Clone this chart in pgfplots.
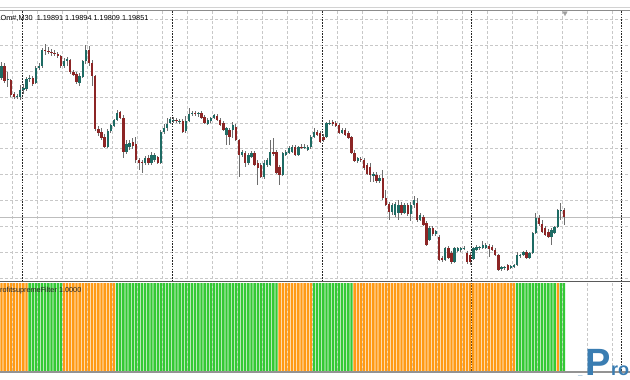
\documentclass[border=0pt]{standalone}
\usepackage{fontspec}
\setmainfont{Liberation Sans}
\usepackage{pgfplots}
\usepackage{pgfplotstable}
\pgfplotsset{compat=1.18}
\definecolor{gridc}{HTML}{C8C8C8}
\definecolor{pricec}{HTML}{BDBDBD}
\definecolor{bull}{HTML}{1E6B64}
\definecolor{bear}{HTML}{8C2525}
\definecolor{wick}{HTML}{6E6E6E}
\definecolor{ogc}{HTML}{FF9A14}
\definecolor{grc}{HTML}{34C934}
\definecolor{logoc}{HTML}{3A7DB2}
\definecolor{sepc}{HTML}{5A5A5A}

% i = bar index, o h l c = open high low close (screen rows, smaller = higher price), g = filter colour (1 green, 0 orange)
\pgfplotstableread{
i o h l c g
0 78 62 80 66 0
1 66 63 83 81 0
2 80 72 87 79 0
3 80 79 97 95 0
4 94 92 99 97 0
5 97 94 99 96 0
6 97 85 100 90 0
7 90 84 94 88 0
8 89 77 91 79 0
9 79 75 82 78 1
10 78 76 86 84 1
11 83 66 84 68 1
12 68 63 70 66 1
13 66 48 68 50 1
14 50 44 55 51 1
15 51 47 54 52 1
16 52 49 56 53 1
17 53 50 56 54 1
18 54 52 58 56 1
19 56 55 68 66 1
20 66 58 68 61 0
21 61 57 66 59 0
22 60 59 74 72 0
23 72 70 76 75 0
24 74 72 84 82 0
25 83 73 86 76 0
26 77 60 78 61 0
27 61 45 64 50 0
28 50 46 66 63 0
29 63 60 86 76 0
30 76 75 131 129 0
31 129 126 136 133 0
32 132 128 140 138 0
33 137 134 148 147 0
34 147 129 148 131 0
35 131 124 133 125 0
36 126 119 127 120 0
37 120 110 121 113 1
38 112 111 119 118 1
39 118 115 158 152 1
40 152 140 154 144 1
41 147 140 150 143 1
42 142 138 149 146 1
43 144 137 163 160 1
44 160 158 170 163 1
45 162 160 173 163 1
46 163 156 165 158 1
47 158 155 165 163 1
48 163 152 165 155 1
49 160 153 162 155 1
50 157 156 164 163 1
51 163 130 164 132 1
52 132 124 134 128 1
53 128 118 131 124 1
54 123 117 124 119 1
55 120 117 123 120 1
56 120 118 123 121 1
57 121 119 124 121 1
58 121 119 133 132 1
59 131 116 133 121 1
60 121 108 122 114 1
61 114 111 116 113 1
62 113 111 116 114 1
63 114 112 117 113 1
64 113 111 119 118 1
65 117 115 124 123 1
66 124 118 125 120 1
67 121 117 123 118 1
68 118 114 119 115 1
69 116 114 121 120 1
70 120 118 126 125 1
71 123 121 131 130 1
72 135 127 145 128 1
73 130 128 145 137 1
74 130 122 138 125 1
75 127 124 141 140 1
76 140 139 177 155 1
77 155 150 157 152 1
78 153 151 167 163 1
79 163 153 165 155 1
80 157 151 158 153 1
81 153 151 166 165 1
82 163 160 185 168 1
83 165 163 178 177 1
84 177 160 179 163 1
85 165 158 167 160 1
86 165 140 166 152 1
87 152 138 156 154 1
88 152 150 174 173 1
89 167 165 185 175 0
90 175 152 176 153 0
91 155 150 156 152 0
92 153 146 154 148 0
93 152 145 153 147 0
94 147 145 156 155 0
95 155 146 156 147 0
96 147 144 149 148 0
97 147 144 149 147 0
98 150 145 151 147 0
99 147 135 149 137 0
100 137 128 138 132 1
101 132 130 136 135 1
102 133 131 143 142 1
103 137 134 142 140 1
104 137 122 138 123 1
105 124 120 125 123 1
106 122 120 126 124 1
107 123 121 127 126 1
108 125 123 134 133 1
109 133 128 134 130 1
110 130 128 136 135 1
111 133 131 139 138 1
112 137 136 154 153 1
113 153 150 162 161 0
114 161 157 163 158 0
115 159 157 162 160 0
116 160 158 170 168 0
117 165 163 175 174 0
118 167 163 182 175 0
119 176 172 182 174 0
120 175 172 183 181 0
121 181 175 183 178 0
122 178 170 200 198 0
123 198 190 206 205 0
124 204 202 220 212 0
125 212 203 215 205 0
126 215 202 217 204 0
127 213 200 220 205 0
128 205 202 215 213 0
129 213 203 214 205 0
130 205 203 216 214 0
131 214 202 221 205 0
132 205 196 208 200 0
133 203 198 222 220 0
134 220 213 221 215 0
135 217 215 226 225 0
136 223 221 246 245 0
137 240 226 241 228 0
138 228 226 236 234 0
139 234 230 236 231 0
140 237 235 261 260 0
141 258 256 262 260 0
142 260 247 261 248 0
143 248 246 259 258 0
144 253 251 264 262 0
145 262 247 263 248 0
146 251 247 252 248 0
147 250 247 252 248 0
148 249 246 250 248 0
149 253 251 264 262 0
150 255 252 265 262 0
151 259 247 260 248 0
152 250 245 251 247 0
153 248 246 250 247 0
154 248 241 249 245 0
155 248 243 249 245 0
156 246 244 257 249 0
157 247 245 251 250 0
158 250 248 256 255 0
159 255 254 271 270 0
160 269 266 271 267 0
161 268 266 270 267 0
162 265 264 271 270 0
163 268 265 269 266 0
164 267 264 268 265 0
165 265 252 266 255 1
166 256 254 258 255 1
167 255 251 256 252 1
168 252 250 259 258 1
169 258 252 259 253 1
170 253 232 254 233 1
171 233 213 234 218 1
172 218 215 226 224 1
173 224 220 233 232 1
174 228 226 236 235 1
175 232 229 238 237 1
176 237 228 245 230 1
177 233 226 234 227 1
178 227 209 228 210 0
179 210 203 220 210 1
180 210 208 225 217 1
}\candles

\begin{document}
\begin{tikzpicture}
\useasboundingbox (0bp,0bp) rectangle (630bp,-380bp);
\fill[white] (0bp,0bp) rectangle (630bp,-380bp);

% ---------------- main price pane ----------------
\begin{axis}[
  at={(0bp,-11bp)}, anchor=north west,
  scale only axis, width=630bp, height=270bp,
  xmin=0, xmax=630, ymin=11, ymax=281, y dir=reverse,
  axis line style={draw=none}, tick style={draw=none},
  xtick={12,37,...,612}, ytick={19,45,71,97,123,148,174,200,226,252,278},
  xticklabels={}, yticklabels={},
  grid=major, major grid style={gridc, line width=0.8bp, dash pattern=on 3bp off 2bp},
]
% current price line
\addplot[pricec, line width=0.9bp] coordinates {(0,217.3) (630,217.3)};
% day separators
\addplot[ycomb, black!85, line width=0.9bp, dash pattern=on 1.6bp off 1.2bp] coordinates {(22,281) (172,281) (322,281) (471,281) (621,281)};
% chart shift marker
\addplot[only marks, mark=triangle*, mark size=2.6bp, mark options={rotate=180, fill=gray!75, draw=gray!75}] coordinates {(565,13)};
% wicks
\addplot[draw=none, mark=none, error bars/.cd, y dir=plus, y explicit, error mark=none,
  error bar style={draw=wick, solid, line width=0.8bp}]
  table[x expr=1.5+3.125*\thisrow{i}, y=h, y error expr=\thisrow{l}-\thisrow{h}] \candles;
% bull bodies
\addplot[draw=none, mark=none, restrict expr to domain={\thisrow{o}-\thisrow{c}}{0:1000},
  error bars/.cd, y dir=plus, y explicit, error mark=none,
  error bar style={draw=bull, solid, line width=2.4bp}]
  table[x expr=1.5+3.125*\thisrow{i}, y expr={min(\thisrow{o},\thisrow{c})},
        y error expr={max(abs(\thisrow{o}-\thisrow{c}),0.9)}] \candles;
% bear bodies
\addplot[draw=none, mark=none, restrict expr to domain={\thisrow{o}-\thisrow{c}}{-1000:-0.01},
  error bars/.cd, y dir=plus, y explicit, error mark=none,
  error bar style={draw=bear, solid, line width=2.4bp}]
  table[x expr=1.5+3.125*\thisrow{i}, y expr={min(\thisrow{o},\thisrow{c})},
        y error expr={max(abs(\thisrow{o}-\thisrow{c}),0.9)}] \candles;
\end{axis}

% ---------------- indicator pane ----------------
\begin{axis}[
  at={(0bp,-283bp)}, anchor=north west,
  scale only axis, width=630bp, height=88bp,
  xmin=0, xmax=630, ymin=0, ymax=1,
  axis line style={draw=none}, tick style={draw=none},
  xtick={12,37,...,612}, ytick=\empty, xticklabels={},
  xmajorgrids, major grid style={gridc, line width=0.8bp, dash pattern=on 3bp off 2bp},
]
\addplot[ycomb, black!85, line width=0.9bp, dash pattern=on 1.6bp off 1.2bp] coordinates {(22,1) (172,1) (322,1) (471,1) (621,1)};
\addplot[ybar, bar width=2.3bp, bar shift=0pt, fill=grc, draw=none]
  table[x expr=1.5+3.125*\thisrow{i}, y=g] \candles;
\addplot[ybar, bar width=2.3bp, bar shift=0pt, fill=ogc, draw=none]
  table[x expr=1.5+3.125*\thisrow{i}, y expr=1-\thisrow{g}] \candles;
\end{axis}

% pane borders
\draw[gray!35, line width=1bp] (0bp,-7.5bp) -- (630bp,-7.5bp);
\draw[gray!90, line width=1.4bp] (0bp,-10.3bp) -- (630bp,-10.3bp);
\draw[sepc, line width=1.4bp] (0bp,-281.6bp) -- (630bp,-281.6bp);
\draw[gray!85, line width=2bp] (0bp,-372.2bp) -- (630bp,-372.2bp);

% texts
\node[anchor=base west, inner sep=0pt, font=\fontsize{7.3bp}{8bp}\selectfont] at (0.5bp,-20.3bp) {Om\#,M30\ \ 1.19891 1.19894 1.19809 1.19851};
\node[anchor=base west, inner sep=0pt, text=black!85, font=\fontsize{7.3bp}{8bp}\selectfont] at (0bp,-292bp) {rofitsupremeFilter 1.0000};

% logo
\node[anchor=base west, inner sep=0pt, text=logoc, font=\fontsize{8bp}{8bp}\bfseries] at (578bp,-375.5bp) {\_};
\node[anchor=base west, inner sep=0pt, text=logoc, font=\fontsize{38bp}{38bp}\bfseries] at (585bp,-375.5bp) {P};
\node[anchor=base west, inner sep=0pt, text=logoc, font=\fontsize{18bp}{18bp}\bfseries] at (611bp,-375.5bp) {ro};
\end{tikzpicture}
\end{document}
